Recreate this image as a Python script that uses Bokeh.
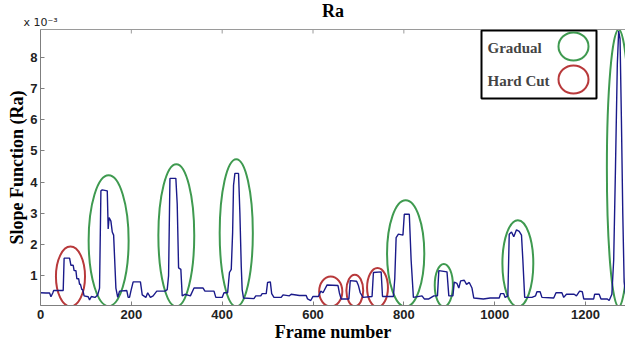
from bokeh.plotting import figure
from bokeh.models import Range1d, FixedTicker, Label, BoxAnnotation, LinearAxis
from bokeh.embed import file_html
from bokeh.resources import INLINE

# ---- data (values in units of 1e-3) ----
frames = [0, 12, 20, 23, 27, 29, 48, 50, 52, 64, 67, 72, 74, 78, 80, 84, 86, 88, 91, 93, 96, 105, 108, 112, 120, 126,
          130, 133, 136, 147, 149, 151, 155, 158, 161, 166, 170, 174, 190, 193, 196, 199, 204, 220, 224, 232, 236, 242,
          248, 256, 274, 279, 282, 285, 298, 301, 304, 309, 312, 318, 330, 338, 358, 362, 382, 386, 400, 404, 412, 416,
          420, 423, 425, 428, 436, 439, 442, 444, 447, 470, 474, 485, 488, 497, 500, 506, 509, 514, 530, 534, 548, 552,
          570, 585, 588, 595, 600, 612, 617, 622, 631, 655, 658, 662, 679, 682, 696, 700, 704, 710, 730, 733, 750, 753,
          777, 780, 783, 788, 798, 801, 812, 816, 821, 840, 845, 855, 866, 874, 877, 895, 899, 908, 911, 917, 921, 925,
          933, 938, 944, 950, 954, 975, 990, 1010, 1013, 1020, 1023, 1029, 1032, 1037, 1042, 1048, 1054, 1059, 1062,
          1066, 1082, 1090, 1093, 1100, 1104, 1130, 1135, 1148, 1152, 1158, 1175, 1180, 1187, 1193, 1196, 1218, 1220,
          1230, 1234, 1248, 1252, 1258, 1262, 1266, 1270, 1273, 1276, 1279, 1282, 1285, 1288]
ra_values = [0.45, 0.44, 0.44, 0.32, 0.44, 0.52, 0.52, 0.52, 1.56, 1.56, 1.33, 1.33, 1.16, 1.16, 0.9, 0.9, 0.72, 0.72,
             0.55, 0.55, 0.35, 0.32, 0.22, 0.33, 0.3, 0.38, 0.6, 3.72, 3.75, 3.72, 2.5, 2.86, 2.75, 2.4, 2.3, 0.6, 0.3,
             0.5, 0.52, 0.3, 0.3, 0.5, 0.8, 0.8, 0.38, 0.3, 0.45, 0.3, 0.35, 0.5, 0.5, 0.55, 1.0, 4.12, 4.12, 3.3,
             1.25, 1.2, 0.35, 0.4, 0.35, 0.6, 0.6, 0.5, 0.5, 0.3, 0.3, 0.45, 0.45, 1.1, 1.2, 2.38, 3.9, 4.28, 4.28,
             3.0, 1.3, 0.55, 0.28, 0.26, 0.35, 0.35, 0.42, 0.42, 0.78, 0.8, 0.42, 0.3, 0.3, 0.38, 0.35, 0.4, 0.36,
             0.36, 0.25, 0.2, 0.33, 0.33, 0.5, 0.45, 0.7, 0.68, 0.45, 0.25, 0.25, 0.84, 0.82, 0.68, 0.45, 0.3, 0.33,
             1.1, 1.12, 0.33, 0.33, 0.9, 2.22, 2.33, 2.3, 2.97, 2.97, 1.5, 0.3, 0.35, 0.25, 0.25, 0.35, 0.35, 1.16,
             1.12, 0.35, 0.35, 0.79, 0.75, 0.6, 0.83, 0.85, 0.72, 0.78, 0.6, 0.28, 0.25, 0.28, 0.28, 0.42, 0.42, 0.3,
             0.35, 2.33, 2.4, 2.25, 2.47, 2.42, 2.3, 1.5, 0.3, 0.3, 0.35, 0.48, 0.48, 0.3, 0.28, 0.45, 0.45, 0.3, 0.4,
             0.4, 0.35, 0.5, 0.48, 0.25, 0.25, 0.4, 0.4, 0.25, 0.25, 0.2, 0.4, 1.5, 4.5, 7.8, 8.85, 8.6, 6.0, 3.0,
             0.8, 0.4]

# gradual transitions (green ellipses): centre frame, centre value, width (frames), height (1e-3)
gradual_x = [150, 299, 431, 804, 888, 1051, 1273]
gradual_y = [2.12, 2.29, 2.37, 1.71, 0.69, 1.39, 4.45]
gradual_w = [88, 79, 73, 82, 40, 68, 52]
gradual_h = [4.2, 4.57, 4.73, 3.42, 1.37, 2.78, 8.9]

# hard cuts (red ellipses)
cut_x = [66, 639, 692, 742]
cut_y = [0.97, 0.49, 0.52, 0.62]
cut_w = [64, 51, 37, 46]
cut_h = [1.92, 0.96, 1.02, 1.25]

x_ticks = [0, 200, 400, 600, 800, 1000, 1200]
y_ticks = [1, 2, 3, 4, 5, 6, 7, 8]
legend_labels = ["Gradual", "Hard Cut"]

GREEN = "#3f9a50"
RED = "#b8393b"
BLUE = "#1a1a8a"
AXIS_GRAY = "#7f7f7f"

X0, X1 = 0, 1288
Y0, Y1 = 0.04, 8.9
W, H = 625, 345
ML, MR, MT, MB = 40, 0, 29, 40
FW, FH = W - ML - MR, H - MT - MB

p = figure(width=W, height=H, output_backend="svg", toolbar_location=None,
           x_range=Range1d(X0, X1), y_range=Range1d(Y0, Y1),
           min_border_left=ML, min_border_right=MR, min_border_top=MT, min_border_bottom=MB,
           background_fill_color="white", border_fill_color="white")
p.outline_line_color = None
p.xgrid.visible = False
p.ygrid.visible = False

p.title.text = "Ra"
p.title.align = "center"
p.title.offset = 4
p.title.standoff = -16
p.title.text_font = "Liberation Serif"
p.title.text_font_style = "bold"
p.title.text_font_size = "18px"
p.title.text_color = "black"

for ax in (p.xaxis[0], p.yaxis[0]):
    ax.major_tick_in = 4
    ax.major_tick_out = 0
    ax.minor_tick_line_color = None
    ax.axis_line_color = AXIS_GRAY
    ax.major_tick_line_color = AXIS_GRAY
    ax.major_label_text_font = "Liberation Sans"
    ax.major_label_text_font_style = "bold"
    ax.major_label_text_font_size = "13px"
    ax.major_label_text_color = "#222222"
    ax.axis_label_text_font = "Liberation Serif"
    ax.axis_label_text_font_style = "bold"
    ax.axis_label_text_font_size = "18px"
    ax.axis_label_text_color = "black"
    ax.axis_label_standoff = 0

p.xaxis[0].ticker = FixedTicker(ticks=x_ticks)
p.yaxis[0].ticker = FixedTicker(ticks=y_ticks)
p.xaxis[0].major_label_standoff = 4
p.yaxis[0].major_label_standoff = 3
p.xaxis[0].axis_label = "Frame number"
p.yaxis[0].axis_label = "Slope Function (Ra)"

# top frame border carrying the exponent label
top = LinearAxis(ticker=FixedTicker(ticks=[]), axis_line_color="#9a9a9a",
                 minor_tick_line_color=None, major_tick_line_color=None,
                 major_label_standoff=0, axis_label="x 10\u207b\u00b3", axis_label_align="start",
                 axis_label_standoff=1, axis_label_text_font="DejaVu Sans",
                 axis_label_text_font_size="11px", axis_label_text_font_style="normal",
                 axis_label_text_color="#222222")
p.add_layout(top, "above")

# inward ticks on the top border
tick_len = 4 / FH * (Y1 - Y0)
p.segment(x0=x_ticks, x1=x_ticks, y0=[Y1] * len(x_ticks), y1=[Y1 - tick_len] * len(x_ticks),
          line_color="#9a9a9a", line_width=1)

# ellipses
p.ellipse(x=gradual_x, y=gradual_y, width=gradual_w, height=gradual_h,
          fill_color=None, line_color=GREEN, line_width=2)
p.ellipse(x=cut_x, y=cut_y, width=cut_w, height=cut_h,
          fill_color=None, line_color=RED, line_width=2)

# trace
p.line(frames, ra_values, line_color=BLUE, line_width=1.4)

# legend box
p.add_layout(BoxAnnotation(left=441, right=556, bottom=FH - 69, top=FH - 1,
                           left_units="screen", right_units="screen",
                           bottom_units="screen", top_units="screen",
                           fill_color="white", fill_alpha=1.0, line_color="black",
                           line_alpha=1.0, line_width=2))
legend_rows = [18, 51]  # px below frame top
legend_colors = [GREEN, RED]
for lab, row in zip(legend_labels, legend_rows):
    p.add_layout(Label(x=447, y=FH - row, x_units="screen", y_units="screen", text=lab,
                       text_font="Liberation Serif", text_font_style="bold", text_font_size="15px",
                       text_align="left", text_baseline="middle"))
lx = [X0 + 533 / FW * (X1 - X0)] * 2
ly = [Y1 - r / FH * (Y1 - Y0) for r in (17, 50)]
p.ellipse(x=lx, y=ly, width=30, height=28, width_units="screen", height_units="screen",
          fill_color=None, line_color=legend_colors, line_width=2, level="overlay")

open("out.html", "w").write(file_html(p, INLINE))
